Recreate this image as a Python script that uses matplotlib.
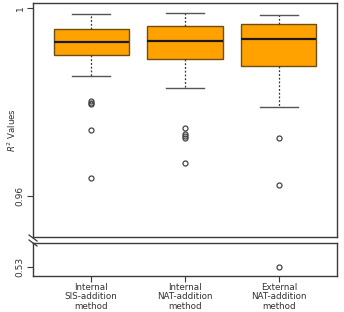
import matplotlib
matplotlib.use("Agg")
import matplotlib.pyplot as plt

# box statistics
methods = ["Internal\nSIS-addition\nmethod", "Internal\nNAT-addition\nmethod", "External\nNAT-addition\nmethod"]
whisker_low = [0.98560, 0.98298, 0.97887]
q1 = [0.98993, 0.98922, 0.98766]
median = [0.99270, 0.99298, 0.99334]
q3 = [0.99560, 0.99610, 0.99653]
whisker_high = [0.99866, 0.99887, 0.99844]
outliers = [
    [0.9802, 0.9797, 0.9795, 0.9740, 0.9638],
    [0.9744, 0.9733, 0.9728, 0.9724, 0.9670],
    [0.9724, 0.9623, 0.5300],
]

W, H = 344, 312
fig = plt.figure(figsize=(W / 100, H / 100), dpi=100)
fig.patch.set_facecolor("white")

ax_top = fig.add_axes([33 / W, 1 - 237 / H, 304 / W, 234 / H])
ax_bot = fig.add_axes([33 / W, 1 - 276 / H, 304 / W, 33 / H])

stats = []
for i in range(3):
    stats.append(dict(med=median[i], q1=q1[i], q3=q3[i],
                      whislo=whisker_low[i], whishi=whisker_high[i],
                      fliers=outliers[i], label=methods[i]))

frame_col = "#3a3a3a"
for ax in (ax_top, ax_bot):
    ax.bxp(stats, positions=[1, 2, 3], widths=0.8, capwidths=0.4,
           patch_artist=True,
           boxprops=dict(facecolor="#FFA200", edgecolor="#6b4e16", linewidth=1.0),
           medianprops=dict(color="#1a1a1a", linewidth=1.6),
           whiskerprops=dict(color="#333333", linestyle=(0, (1.5, 1.5)), linewidth=0.9),
           capprops=dict(color="#555555", linewidth=1.0),
           flierprops=dict(marker="o", markersize=3.6, markerfacecolor="none",
                           markeredgecolor="#444444", markeredgewidth=0.9))
    ax.set_xlim(0.38, 3.62)
    for s in ax.spines.values():
        s.set_color(frame_col)
        s.set_linewidth(1.0)
    ax.tick_params(axis="y", length=4, color=frame_col, labelsize=6.5,
                   labelcolor="#333333", labelrotation=90, pad=2)

ax_top.set_ylim(0.9513, 1.00106)
ax_top.set_yticks([0.96, 1.0])
ax_top.set_yticklabels(["0.96", "1"], va="center")
ax_top.set_xticks([])

ax_bot.set_ylim(0.528, 0.5353)
ax_bot.set_yticks([0.53])
ax_bot.set_yticklabels(["0.53"], va="center")
ax_bot.set_xticks([1, 2, 3])
ax_bot.set_xticklabels(methods, fontsize=6.3, color="#333333", linespacing=1.05)
ax_bot.tick_params(axis="x", length=4, color=frame_col, pad=1)

# axis break marks on the left side
for yb in (238 / H, 243 / H):
    fig.add_artist(plt.Line2D([29 / W, 37 / W], [1 - yb + 3 / H, 1 - yb - 3 / H],
                              color=frame_col, linewidth=0.9))

fig.text(12 / W, 1 - 130 / H, "$R^2$ Values", rotation=90, fontsize=6.2,
         color="#333333", ha="center", va="center")

fig.savefig("out.png", dpi=100)
